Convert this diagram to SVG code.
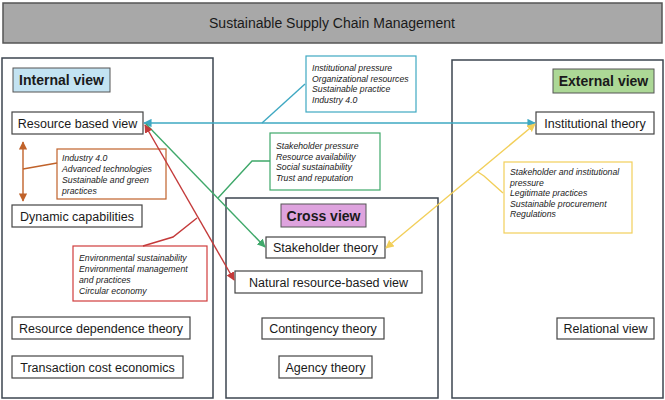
<svg xmlns="http://www.w3.org/2000/svg" width="665" height="400" viewBox="0 0 665 400">
<style>
.panel{fill:#fff;stroke:#3d4650;stroke-width:1.5}
.node{fill:#fff;stroke:#444;stroke-width:1.2}
.nt{font-family:"Liberation Sans",Arial,sans-serif;font-size:12.5px;fill:#1a1a1a;text-anchor:middle}
.lbl{font-family:"Liberation Sans",Arial,sans-serif;font-size:14px;font-weight:bold;fill:#1a1a1a;text-anchor:middle}
.ann{font-family:"Liberation Sans",Arial,sans-serif;font-size:8.7px;font-style:italic;fill:#222}
.c{fill:none;stroke-width:1.4}
</style>
<defs>
<marker id="aT" viewBox="0 0 10 10" refX="9" refY="5" markerWidth="6" markerHeight="6" orient="auto-start-reverse"><path d="M0,0 L10,5 L0,10 z" fill="#3ea8c2"/></marker>
<marker id="aG" viewBox="0 0 10 10" refX="9" refY="5" markerWidth="6" markerHeight="6" orient="auto-start-reverse"><path d="M0,0 L10,5 L0,10 z" fill="#3fa86a"/></marker>
<marker id="aR" viewBox="0 0 10 10" refX="9" refY="5" markerWidth="6" markerHeight="6" orient="auto-start-reverse"><path d="M0,0 L10,5 L0,10 z" fill="#c43a3a"/></marker>
<marker id="aY" viewBox="0 0 10 10" refX="9" refY="5" markerWidth="6" markerHeight="6" orient="auto-start-reverse"><path d="M0,0 L10,5 L0,10 z" fill="#f2cf5a"/></marker>
<marker id="aO" viewBox="0 0 10 10" refX="9" refY="5" markerWidth="6" markerHeight="6" orient="auto-start-reverse"><path d="M0,0 L10,5 L0,10 z" fill="#c0622a"/></marker>
</defs>
<rect width="665" height="400" fill="#fff"/>
<g id="title">
<rect x="3" y="3" width="659" height="40" fill="#a8a8a8" stroke="#555" stroke-width="1.5"/>
<text x="332" y="28" class="nt" style="font-size:14px">Sustainable Supply Chain Management</text>
</g>
<g id="internal-panel"><rect class="panel" x="2" y="58" width="211" height="340"/></g>
<g id="cross-panel"><rect class="panel" x="226" y="198" width="212" height="200"/></g>
<g id="external-panel"><rect class="panel" x="452" y="60" width="211" height="338"/></g>
<g id="internal-label"><rect x="13" y="68" width="97" height="24" fill="#c3e3f2" stroke="#555" stroke-width="1"/><text class="lbl" x="61.5" y="85">Internal view</text></g>
<g id="cross-label"><rect x="281" y="204" width="85" height="23" fill="#dea3de" stroke="#555" stroke-width="1"/><text class="lbl" x="323.5" y="220.5">Cross view</text></g>
<g id="external-label"><rect x="553" y="69" width="101" height="24" fill="#acd896" stroke="#555" stroke-width="1"/><text class="lbl" x="603.5" y="86">External view</text></g>
<g id="rbv"><rect class="node" x="12" y="112" width="131" height="22"/><text class="nt" x="77.5" y="127.5">Resource based view</text></g>
<g id="dc"><rect class="node" x="12" y="205" width="130" height="22"/><text class="nt" x="77" y="220.5">Dynamic capabilities</text></g>
<g id="rdt"><rect class="node" x="12" y="317" width="178" height="22"/><text class="nt" x="101" y="332.5">Resource dependence theory</text></g>
<g id="tce"><rect class="node" x="12" y="356" width="171" height="22"/><text class="nt" x="97.5" y="371.5">Transaction cost economics</text></g>
<g id="st"><rect class="node" x="266" y="237" width="119" height="21"/><text class="nt" x="325.5" y="252">Stakeholder theory</text></g>
<g id="nrbv"><rect class="node" x="235" y="271" width="187" height="22"/><text class="nt" x="328.5" y="286.5">Natural resource-based view</text></g>
<g id="ct"><rect class="node" x="262" y="318" width="122" height="21"/><text class="nt" x="323" y="333">Contingency theory</text></g>
<g id="at"><rect class="node" x="279" y="356" width="93" height="22"/><text class="nt" x="325.5" y="371.5">Agency theory</text></g>
<g id="it"><rect class="node" x="536" y="112" width="118" height="22"/><text class="nt" x="595" y="127.5">Institutional theory</text></g>
<g id="rv"><rect class="node" x="557" y="318" width="97" height="21"/><text class="nt" x="605.5" y="333">Relational view</text></g>
<g id="ann-orange"><rect x="57" y="149" width="109" height="50" fill="#fff" stroke="#c0622a" stroke-width="1.2"/>
<text class="ann" x="62" y="161">Industry 4.0</text><text class="ann" x="62" y="172">Advanced technologies</text><text class="ann" x="62" y="183">Sustainable and green</text><text class="ann" x="62" y="194">practices</text></g>
<g id="ann-red"><rect x="73" y="246" width="134" height="55" fill="#fff" stroke="#d03c3c" stroke-width="1.2"/>
<text class="ann" x="79" y="261">Environmental sustainability</text><text class="ann" x="79" y="272">Environmental management</text><text class="ann" x="79" y="283">and practices</text><text class="ann" x="79" y="294">Circular economy</text></g>
<g id="ann-teal"><rect x="306" y="56" width="110" height="56" fill="#fff" stroke="#3ea8c2" stroke-width="1.2"/>
<text class="ann" x="312" y="71">Institutional pressure</text><text class="ann" x="312" y="81.5">Organizational resources</text><text class="ann" x="312" y="92">Sustainable practice</text><text class="ann" x="312" y="102.5">Industry 4.0</text></g>
<g id="ann-green"><rect x="270" y="133" width="110" height="57" fill="#fff" stroke="#3fa86a" stroke-width="1.2"/>
<text class="ann" x="276" y="149">Stakeholder pressure</text><text class="ann" x="276" y="159.5">Resource availability</text><text class="ann" x="276" y="170">Social sustainability</text><text class="ann" x="276" y="180.5">Trust and reputation</text></g>
<g id="ann-yellow"><rect x="504" y="162" width="128" height="71" fill="#fff" stroke="#f2cf5a" stroke-width="1.2"/>
<text class="ann" x="510" y="175">Stakeholder and institutional</text><text class="ann" x="510" y="185.5">pressure</text><text class="ann" x="510" y="196">Legitimate practices</text><text class="ann" x="510" y="206.5">Sustainable procurement</text><text class="ann" x="510" y="217">Regulations</text></g>
<g id="connectors">
<line class="c" x1="144" y1="123" x2="535" y2="123" stroke="#3ea8c2" marker-start="url(#aT)" marker-end="url(#aT)"/>
<line class="c" x1="262" y1="123" x2="305" y2="84" stroke="#3ea8c2"/>
<line class="c" x1="146" y1="124" x2="265" y2="247" stroke="#3fa86a" marker-end="url(#aG)"/>
<polyline class="c" points="218,198 252,161 270,161" stroke="#3fa86a"/>
<line class="c" x1="145" y1="125" x2="234" y2="280" stroke="#c43a3a" marker-start="url(#aR)" marker-end="url(#aR)"/>
<polyline class="c" points="143,246 173,237 197,218" stroke="#c43a3a"/>
<line class="c" x1="535" y1="124" x2="386" y2="248" stroke="#f2cf5a" marker-start="url(#aY)" marker-end="url(#aY)"/>
<polyline class="c" points="478,172 484,176 503,193" stroke="#f2cf5a"/>
<line class="c" x1="23" y1="142" x2="23" y2="201" stroke="#c0622a" marker-start="url(#aO)" marker-end="url(#aO)"/>
<line class="c" x1="23" y1="169" x2="57" y2="163" stroke="#c0622a"/>
</g>
</svg>
